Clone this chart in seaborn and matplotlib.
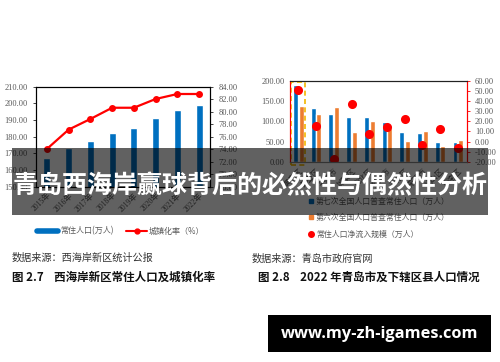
import numpy as np
import pandas as pd
import matplotlib
matplotlib.use("Agg")
import matplotlib.pyplot as plt
from matplotlib.lines import Line2D
from matplotlib.patches import Rectangle
from matplotlib.ticker import FormatStrFormatter
import seaborn as sns

# ---------------- data ----------------
years = ["2015年", "2016年", "2017年", "2018年", "2019年", "2020年", "2021年", "2022年"]
population = [167.0, 173.4, 177.4, 182.4, 185.2, 191.2, 196.2, 199.2]
urbanization = [74.0, 77.1, 78.8, 80.6, 80.6, 82.0, 82.8, 82.8]
left_labels = ["常住人口(万人)", "城镇化率（%）"]

districts = ["黄岛区", "即墨区", "平度市", "城阳区", "市北区",
             "胶州市", "李沧区", "莱西市", "崂山区", "市南区"]
census7 = [190.0, 132.4, 119.0, 111.0, 110.0, 98.5, 73.8, 71.5, 50.0, 49.0]
census6 = [139.0, 118.0, 135.6, 73.8, 101.8, 84.6, 51.5, 75.0, 38.4, 54.0]
net_inflow = [51.0, 15.7, -17.7, 37.2, 7.5, 14.4, 22.3, -3.1, 12.1, -6.1]
right_labels = ["第七次全国人口普查常住人口（万人）",
                "第六次全国人口普查常住人口（万人）",
                "常住人口净流入规模（万人）"]

title = "青岛西海岸赢球背后的必然性与偶然性分析"
url = "www.my-zh-igames.com"

# ---------------- style ----------------
sns.set_style("ticks")
plt.rcParams["font.family"] = ["Liberation Serif", "Noto Sans CJK SC", "DejaVu Sans"]
CJK = ["Noto Sans CJK SC", "DejaVu Sans"]
BLUE = "#0070C0"
ORANGE = "#ED7D31"
RED = "#FF0000"
GRAY = "#595959"

W, H = 500, 362
fig = plt.figure(figsize=(W / 100, H / 100), dpi=100)
fig.patch.set_facecolor("white")


def px_axes(x0, y0, x1, y1):
    return fig.add_axes([x0 / W, 1 - y1 / H, (x1 - x0) / W, (y1 - y0) / H])


# ---------------- left chart ----------------
ax1 = px_axes(36, 86.5, 210, 186.5)
sns.barplot(x=years, y=population, color=BLUE, width=0.32, saturation=1, ax=ax1)
ax1.set_ylim(150, 210)
ax1.set_yticks(np.arange(150, 211, 10))
ax1.yaxis.set_major_formatter(FormatStrFormatter("%.2f"))
ax1.set_xlabel("")
ax1.set_ylabel("")

ax1b = ax1.twinx()
sns.pointplot(x=years, y=urbanization, color=RED, markers="o", markersize=3.8,
              linewidth=1.6, ax=ax1b)
ax1b.set_ylim(68, 84)
ax1b.set_yticks(np.arange(68, 85, 2))
ax1b.yaxis.set_major_formatter(FormatStrFormatter("%.2f"))
ax1b.set_ylabel("")
ax1.set_xlim(-0.5, len(years) - 0.5)

for a in (ax1, ax1b):
    for s in a.spines.values():
        s.set_visible(True)
        s.set_color("black")
        s.set_linewidth(0.8)
    a.tick_params(axis="y", labelsize=6, labelcolor=GRAY, length=2.5, width=0.6)
ax1.tick_params(axis="x", labelsize=5.5, labelcolor=GRAY, length=0, rotation=45)
for lab in ax1.get_xticklabels():
    lab.set_ha("right")
    lab.set_rotation_mode("anchor")

fig.legend(handles=[Line2D([], [], color=BLUE, lw=4),
                    Line2D([], [], color=RED, lw=1.5, marker="o", ms=3.5)],
           labels=left_labels, loc="center", bbox_to_anchor=(121 / W, 1 - 231 / H),
           ncol=2, frameon=False, handlelength=2.6, columnspacing=1.6,
           handletextpad=0.2, prop={"family": CJK, "size": 5.8}, labelcolor=GRAY)

fig.text(12 / W, 1 - 258 / H, "数据来源：西海岸新区统计公报", family=CJK,
         fontsize=7.3, color="#333333", va="center", ha="left")
fig.text(12 / W, 1 - 277 / H, "图 2.7    西海岸新区常住人口及城镇化率", family=CJK,
         fontsize=8.3, color="#111111", va="center", ha="left", weight="bold")

# ---------------- right chart ----------------
ax2 = px_axes(289.5, 81, 466.7, 161.7)
df = pd.DataFrame({
    "district": districts * 2,
    "value": census7 + census6,
    "census": [right_labels[0]] * len(districts) + [right_labels[1]] * len(districts),
})
sns.barplot(data=df, x="district", y="value", hue="census",
            palette=[BLUE, ORANGE], width=0.64, gap=0.12, saturation=1,
            legend=False, ax=ax2)
ax2.set_ylim(0, 200)
ax2.set_yticks(np.arange(0, 201, 50))
ax2.yaxis.set_major_formatter(FormatStrFormatter("%.2f"))
ax2.set_xlabel("")
ax2.set_ylabel("")

ax2b = ax2.twinx()
sns.pointplot(x=districts, y=net_inflow, color=RED, markers="o", markersize=4.5,
              linestyle="none", ax=ax2b)
ax2b.set_ylim(-20, 60)
ax2b.set_yticks(np.arange(-20, 61, 10))
ax2b.yaxis.set_major_formatter(FormatStrFormatter("%.2f"))
ax2b.set_ylabel("")
ax2.set_xlim(-0.5, len(districts) - 0.5)

for a in (ax2, ax2b):
    for s in a.spines.values():
        s.set_visible(True)
        s.set_linewidth(0.8)
    a.spines["top"].set_color("#222222")
    a.spines["bottom"].set_color("#888888")
    a.spines["left"].set_color(RED)
    a.spines["right"].set_color(RED)
ax2.tick_params(axis="y", labelsize=6, labelcolor=GRAY, length=0)
ax2b.tick_params(axis="y", labelsize=6, labelcolor=GRAY, color=RED, length=2.5, width=0.6)
ax2.tick_params(axis="x", labelsize=5.5, labelcolor=GRAY, length=0, rotation=45)
for lab in ax2.get_xticklabels():
    lab.set_ha("right")
    lab.set_rotation_mode("anchor")

ax2.add_patch(Rectangle((-0.42, -8), 0.8, 205, fill=False, edgecolor="#F2B600",
                        linestyle=(0, (3, 2)), linewidth=1.2, clip_on=False, zorder=5))

fig.legend(handles=[Line2D([], [], color=BLUE, lw=0, marker="s", ms=3.5),
                    Line2D([], [], color=ORANGE, lw=0, marker="s", ms=3.5),
                    Line2D([], [], color=RED, lw=0, marker="o", ms=4)],
           labels=right_labels, loc="center left", bbox_to_anchor=(301 / W, 1 - 217.5 / H),
           ncol=1, frameon=False, handlelength=0.8, handletextpad=0.2,
           labelspacing=0.95, prop={"family": CJK, "size": 5.7}, labelcolor=GRAY)

fig.text(252 / W, 1 - 259 / H, "数据来源：青岛市政府官网", family=CJK,
         fontsize=7.3, color="#333333", va="center", ha="left")
fig.text(258 / W, 1 - 277 / H, "图 2.8    2022 年青岛市及下辖区县人口情况", family=CJK,
         fontsize=8.3, color="#111111", va="center", ha="left", weight="bold")

# ---------------- overlays ----------------
fig.add_artist(Rectangle((12 / W, 1 - 215 / H), 476 / W, 67 / H, transform=fig.transFigure,
                         facecolor="black", alpha=0.62, edgecolor="none", zorder=10))
fig.text(0.5, 1 - 186 / H, title, family=CJK, fontsize=18, weight="bold",
         color="white", ha="center", va="center", zorder=11)

fig.add_artist(Rectangle((268 / W, 1 - 352 / H), 223 / W, 37 / H, transform=fig.transFigure,
                         facecolor="black", edgecolor="none", zorder=10))
fig.text(379.5 / W, 1 - 333.5 / H, url, family=["Open Sans", "DejaVu Sans"], fontsize=11.8,
         weight="bold", color="white", ha="center", va="center", zorder=11)

fig.savefig("out.png", dpi=100, facecolor="white")
